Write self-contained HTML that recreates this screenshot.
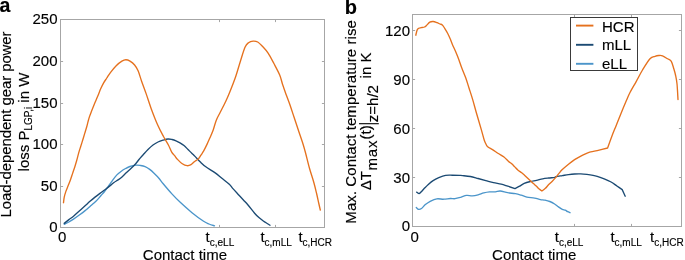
<!DOCTYPE html>
<html><head><meta charset="utf-8"><style>
html,body{margin:0;padding:0;background:#fff;width:685px;height:260px;overflow:hidden}
svg{display:block;will-change:transform}
text{font-family:"Liberation Sans",sans-serif;stroke:#000;stroke-width:0.15px}
</style></head><body>
<svg width="685" height="260" viewBox="0 0 685 260">
<rect x="60.5" y="19.5" width="264.0" height="208.0" fill="none" stroke="#a6a6a6" stroke-width="1"/>
<line x1="60.5" y1="186.5" x2="63.1" y2="186.5" stroke="#a6a6a6"/>
<line x1="324.5" y1="186.5" x2="321.9" y2="186.5" stroke="#a6a6a6"/>
<line x1="60.5" y1="144.5" x2="63.1" y2="144.5" stroke="#a6a6a6"/>
<line x1="324.5" y1="144.5" x2="321.9" y2="144.5" stroke="#a6a6a6"/>
<line x1="60.5" y1="103.5" x2="63.1" y2="103.5" stroke="#a6a6a6"/>
<line x1="324.5" y1="103.5" x2="321.9" y2="103.5" stroke="#a6a6a6"/>
<line x1="60.5" y1="61.5" x2="63.1" y2="61.5" stroke="#a6a6a6"/>
<line x1="324.5" y1="61.5" x2="321.9" y2="61.5" stroke="#a6a6a6"/>
<line x1="219.5" y1="227.5" x2="219.5" y2="224.9" stroke="#a6a6a6"/>
<line x1="219.5" y1="19.5" x2="219.5" y2="22.1" stroke="#a6a6a6"/>
<line x1="275.5" y1="227.5" x2="275.5" y2="224.9" stroke="#a6a6a6"/>
<line x1="275.5" y1="19.5" x2="275.5" y2="22.1" stroke="#a6a6a6"/>
<rect x="412.5" y="14.5" width="269.0" height="212.0" fill="none" stroke="#a6a6a6" stroke-width="1"/>
<line x1="412.5" y1="177.5" x2="415.1" y2="177.5" stroke="#a6a6a6"/>
<line x1="681.5" y1="177.5" x2="678.9" y2="177.5" stroke="#a6a6a6"/>
<line x1="412.5" y1="128.5" x2="415.1" y2="128.5" stroke="#a6a6a6"/>
<line x1="681.5" y1="128.5" x2="678.9" y2="128.5" stroke="#a6a6a6"/>
<line x1="412.5" y1="79.5" x2="415.1" y2="79.5" stroke="#a6a6a6"/>
<line x1="681.5" y1="79.5" x2="678.9" y2="79.5" stroke="#a6a6a6"/>
<line x1="412.5" y1="30.5" x2="415.1" y2="30.5" stroke="#a6a6a6"/>
<line x1="681.5" y1="30.5" x2="678.9" y2="30.5" stroke="#a6a6a6"/>
<line x1="574.5" y1="226.5" x2="574.5" y2="223.9" stroke="#a6a6a6"/>
<line x1="574.5" y1="14.5" x2="574.5" y2="17.1" stroke="#a6a6a6"/>
<line x1="631.5" y1="226.5" x2="631.5" y2="223.9" stroke="#a6a6a6"/>
<line x1="631.5" y1="14.5" x2="631.5" y2="17.1" stroke="#a6a6a6"/>
<path d="M64.30,224.40 C65.07,224.00 67.37,222.88 68.90,222.00 C70.43,221.12 71.77,220.27 73.50,219.10 C75.23,217.93 77.37,216.42 79.30,215.00 C81.23,213.58 83.32,212.03 85.10,210.60 C86.88,209.17 88.52,207.67 90.00,206.40 C91.48,205.13 92.75,204.13 94.00,203.00 C95.25,201.87 96.33,200.85 97.50,199.60 C98.67,198.35 99.83,196.85 101.00,195.50 C102.17,194.15 103.28,193.03 104.50,191.50 C105.72,189.97 106.95,188.17 108.30,186.30 C109.65,184.43 111.17,182.20 112.60,180.30 C114.03,178.40 115.45,176.42 116.90,174.90 C118.35,173.38 119.85,172.27 121.30,171.20 C122.75,170.13 124.17,169.28 125.60,168.50 C127.03,167.72 128.18,167.05 129.90,166.50 C131.62,165.95 134.13,165.37 135.90,165.20 C137.67,165.03 138.97,165.27 140.50,165.50 C142.03,165.73 143.57,165.95 145.10,166.60 C146.63,167.25 148.17,168.25 149.70,169.40 C151.23,170.55 152.77,172.03 154.30,173.50 C155.83,174.97 157.42,176.48 158.90,178.20 C160.38,179.92 161.03,181.18 163.20,183.80 C165.37,186.42 169.02,190.77 171.90,193.90 C174.78,197.03 177.15,199.47 180.50,202.60 C183.85,205.73 188.15,209.58 192.00,212.70 C195.85,215.82 200.77,219.42 203.60,221.30 C206.43,223.18 207.18,223.25 209.00,224.00 C210.82,224.75 213.58,225.50 214.50,225.80" fill="none" stroke="#4B95CA" stroke-width="1.35" stroke-linejoin="round" stroke-linecap="round"/>
<path d="M64.20,223.40 C64.98,222.77 67.35,220.80 68.90,219.60 C70.45,218.40 71.77,217.63 73.50,216.20 C75.23,214.77 77.37,212.73 79.30,211.00 C81.23,209.27 83.32,207.42 85.10,205.80 C86.88,204.18 88.35,202.75 90.00,201.30 C91.65,199.85 93.33,198.42 95.00,197.10 C96.67,195.78 98.28,194.67 100.00,193.40 C101.72,192.13 103.45,190.92 105.30,189.50 C107.15,188.08 109.65,186.07 111.10,184.90 C112.55,183.73 112.77,183.38 114.00,182.50 C115.23,181.62 117.17,180.53 118.50,179.60 C119.83,178.67 120.67,178.08 122.00,176.90 C123.33,175.72 124.97,173.95 126.50,172.50 C128.03,171.05 129.63,169.70 131.20,168.20 C132.77,166.70 134.60,164.95 135.90,163.50 C137.20,162.05 137.82,160.92 139.00,159.50 C140.18,158.08 141.50,156.67 143.00,155.00 C144.50,153.33 146.33,151.17 148.00,149.50 C149.67,147.83 151.33,146.25 153.00,145.00 C154.67,143.75 156.33,142.80 158.00,142.00 C159.67,141.20 161.33,140.70 163.00,140.20 C164.67,139.70 166.50,139.12 168.00,139.00 C169.50,138.88 170.67,139.20 172.00,139.50 C173.33,139.80 174.67,140.25 176.00,140.80 C177.33,141.35 178.67,142.02 180.00,142.80 C181.33,143.58 182.67,144.38 184.00,145.50 C185.33,146.62 186.67,148.17 188.00,149.50 C189.33,150.83 190.83,152.35 192.00,153.50 C193.17,154.65 193.60,154.97 195.00,156.40 C196.40,157.83 198.60,160.37 200.40,162.10 C202.20,163.83 203.33,165.00 205.80,166.80 C208.27,168.60 212.52,170.98 215.20,172.90 C217.88,174.82 219.55,176.40 221.90,178.30 C224.25,180.20 227.50,182.62 229.30,184.30 C231.10,185.98 231.25,186.75 232.70,188.40 C234.15,190.05 236.22,192.27 238.00,194.20 C239.78,196.13 241.73,198.20 243.40,200.00 C245.07,201.80 246.13,202.80 248.00,205.00 C249.87,207.20 252.78,211.10 254.60,213.20 C256.42,215.30 257.45,216.30 258.90,217.60 C260.35,218.90 261.85,219.98 263.30,221.00 C264.75,222.02 266.48,223.00 267.60,223.70 C268.72,224.40 269.60,224.95 270.00,225.20" fill="none" stroke="#1B4A73" stroke-width="1.35" stroke-linejoin="round" stroke-linecap="round"/>
<path d="M63.50,202.70 C63.62,201.80 63.82,199.15 64.20,197.30 C64.58,195.45 65.15,193.52 65.80,191.60 C66.45,189.68 67.33,187.73 68.10,185.80 C68.87,183.87 69.63,182.12 70.40,180.00 C71.17,177.88 71.93,175.40 72.70,173.10 C73.47,170.80 74.33,168.30 75.00,166.20 C75.67,164.10 76.08,162.72 76.70,160.50 C77.32,158.28 78.03,155.23 78.70,152.90 C79.37,150.57 80.02,148.68 80.70,146.50 C81.38,144.32 82.12,142.03 82.80,139.80 C83.48,137.57 84.13,135.32 84.80,133.10 C85.47,130.88 86.23,128.52 86.80,126.50 C87.37,124.48 87.77,122.60 88.20,121.00 C88.63,119.40 88.87,118.48 89.40,116.90 C89.93,115.32 90.62,113.53 91.40,111.50 C92.18,109.47 93.32,106.62 94.10,104.70 C94.88,102.78 95.45,101.53 96.10,100.00 C96.75,98.47 97.22,97.40 98.00,95.50 C98.78,93.60 99.88,90.67 100.80,88.60 C101.72,86.53 102.50,84.87 103.50,83.10 C104.50,81.33 105.65,79.75 106.80,78.00 C107.95,76.25 108.83,74.65 110.40,72.60 C111.97,70.55 114.28,67.62 116.20,65.70 C118.12,63.78 120.28,62.10 121.90,61.10 C123.52,60.10 124.55,59.70 125.90,59.70 C127.25,59.70 128.55,60.22 130.00,61.10 C131.45,61.98 133.25,63.38 134.60,65.00 C135.95,66.62 136.93,68.10 138.10,70.80 C139.27,73.50 140.25,77.35 141.60,81.20 C142.95,85.05 144.58,89.28 146.20,93.90 C147.82,98.52 149.38,103.72 151.30,108.90 C153.22,114.08 155.67,120.40 157.70,125.00 C159.73,129.60 161.72,133.17 163.50,136.50 C165.28,139.83 167.03,142.38 168.40,145.00 C169.77,147.62 170.67,150.43 171.70,152.20 C172.73,153.97 173.63,154.40 174.60,155.60 C175.57,156.80 176.22,158.03 177.50,159.40 C178.78,160.77 180.70,162.75 182.30,163.80 C183.90,164.85 185.65,165.55 187.10,165.70 C188.55,165.85 189.80,165.35 191.00,164.70 C192.20,164.05 193.07,162.77 194.30,161.80 C195.53,160.83 197.27,160.05 198.40,158.90 C199.53,157.75 200.22,156.23 201.10,154.90 C201.98,153.57 202.70,152.70 203.70,150.90 C204.70,149.10 206.08,146.23 207.10,144.10 C208.12,141.97 208.78,140.45 209.80,138.10 C210.82,135.75 212.13,132.95 213.20,130.00 C214.27,127.05 215.07,123.28 216.20,120.40 C217.33,117.52 218.40,115.90 220.00,112.70 C221.60,109.50 224.20,104.57 225.80,101.20 C227.40,97.83 227.93,96.67 229.60,92.50 C231.27,88.33 234.00,81.42 235.80,76.20 C237.60,70.98 238.87,66.02 240.40,61.20 C241.93,56.38 243.65,50.38 245.00,47.30 C246.35,44.22 247.15,43.73 248.50,42.70 C249.85,41.67 251.57,41.22 253.10,41.10 C254.63,40.98 256.17,41.15 257.70,42.00 C259.23,42.85 260.57,44.35 262.30,46.20 C264.03,48.05 266.17,50.22 268.10,53.10 C270.03,55.98 271.97,59.85 273.90,63.50 C275.83,67.15 278.25,71.50 279.70,75.00 C281.15,78.50 281.50,81.17 282.60,84.50 C283.70,87.83 285.07,91.58 286.30,95.00 C287.53,98.42 288.72,101.33 290.00,105.00 C291.28,108.67 292.53,112.58 294.00,117.00 C295.47,121.42 297.35,127.17 298.80,131.50 C300.25,135.83 301.58,139.47 302.70,143.00 C303.82,146.53 304.38,148.53 305.50,152.70 C306.62,156.87 308.00,163.00 309.40,168.00 C310.80,173.00 312.70,178.45 313.90,182.70 C315.10,186.95 315.80,190.12 316.60,193.50 C317.40,196.88 318.08,200.25 318.70,203.00 C319.32,205.75 320.03,208.83 320.30,210.00" fill="none" stroke="#E5711E" stroke-width="1.35" stroke-linejoin="round" stroke-linecap="round"/>
<path d="M416.30,207.50 C416.70,207.82 417.83,209.23 418.70,209.40 C419.57,209.57 420.38,209.30 421.50,208.50 C422.62,207.70 423.95,205.80 425.40,204.60 C426.85,203.40 428.28,202.27 430.20,201.30 C432.12,200.33 434.65,199.15 436.90,198.80 C439.15,198.45 441.45,199.25 443.70,199.20 C445.95,199.15 448.52,198.58 450.40,198.50 C452.28,198.42 453.27,198.90 455.00,198.70 C456.73,198.50 458.88,197.85 460.80,197.30 C462.72,196.75 464.58,195.65 466.50,195.40 C468.42,195.15 470.37,195.90 472.30,195.80 C474.23,195.70 476.18,195.28 478.10,194.80 C480.02,194.32 481.88,193.38 483.80,192.90 C485.72,192.42 487.67,192.07 489.60,191.90 C491.53,191.73 493.63,192.05 495.40,191.90 C497.17,191.75 498.15,190.87 500.20,191.00 C502.25,191.13 505.17,192.25 507.70,192.70 C510.23,193.15 513.15,193.28 515.40,193.70 C517.65,194.12 519.28,194.63 521.20,195.20 C523.12,195.77 524.67,196.62 526.90,197.10 C529.13,197.58 532.35,197.68 534.60,198.10 C536.85,198.52 538.67,199.25 540.40,199.60 C542.13,199.95 543.43,199.88 545.00,200.20 C546.57,200.52 548.20,200.87 549.80,201.50 C551.40,202.13 553.15,203.10 554.60,204.00 C556.05,204.90 557.22,206.00 558.50,206.90 C559.78,207.80 561.18,208.85 562.30,209.40 C563.42,209.95 564.30,209.82 565.20,210.20 C566.10,210.58 566.90,211.28 567.70,211.70 C568.50,212.12 569.62,212.53 570.00,212.70" fill="none" stroke="#4B95CA" stroke-width="1.35" stroke-linejoin="round" stroke-linecap="round"/>
<path d="M416.70,192.10 C417.12,192.33 418.40,193.60 419.20,193.50 C420.00,193.40 420.63,192.37 421.50,191.50 C422.37,190.63 423.27,189.48 424.40,188.30 C425.53,187.12 426.85,185.68 428.30,184.40 C429.75,183.12 431.35,181.72 433.10,180.60 C434.85,179.48 436.72,178.57 438.80,177.70 C440.88,176.83 443.35,175.82 445.60,175.40 C447.85,174.98 449.97,175.20 452.30,175.20 C454.63,175.20 457.87,175.33 459.60,175.40 C461.33,175.47 460.90,175.42 462.70,175.60 C464.50,175.78 467.83,176.02 470.40,176.50 C472.97,176.98 475.53,177.82 478.10,178.50 C480.67,179.18 483.23,179.90 485.80,180.60 C488.37,181.30 490.93,182.10 493.50,182.70 C496.07,183.30 498.83,183.62 501.20,184.20 C503.57,184.78 505.40,185.47 507.70,186.20 C510.00,186.93 515.00,188.60 515.00,188.60 C515.00,188.60 518.07,187.07 519.60,186.20 C521.13,185.33 522.40,184.18 524.20,183.40 C526.00,182.62 528.35,182.02 530.40,181.50 C532.45,180.98 534.45,180.75 536.50,180.30 C538.55,179.85 540.65,179.18 542.70,178.80 C544.75,178.42 546.80,178.23 548.80,178.00 C550.80,177.77 553.47,177.63 554.70,177.40 C555.93,177.17 554.93,176.90 556.20,176.60 C557.47,176.30 560.25,175.93 562.30,175.60 C564.35,175.27 566.45,174.87 568.50,174.60 C570.55,174.33 572.55,174.12 574.60,174.00 C576.65,173.88 578.75,173.83 580.80,173.90 C582.85,173.97 584.85,174.17 586.90,174.40 C588.95,174.63 591.38,174.98 593.10,175.30 C594.82,175.62 595.35,175.72 597.20,176.30 C599.05,176.88 601.88,177.85 604.20,178.80 C606.52,179.75 608.98,180.80 611.10,182.00 C613.22,183.20 615.05,184.73 616.90,186.00 C618.75,187.27 622.20,189.60 622.20,189.60 C622.20,189.60 624.70,195.10 625.20,196.20" fill="none" stroke="#1B4A73" stroke-width="1.35" stroke-linejoin="round" stroke-linecap="round"/>
<path d="M415.80,35.20 C416.05,34.27 416.65,30.80 417.30,29.60 C417.95,28.40 418.92,28.35 419.70,28.00 C420.48,27.65 421.20,27.67 422.00,27.50 C422.80,27.33 423.77,27.32 424.50,27.00 C425.23,26.68 425.52,26.40 426.40,25.60 C427.28,24.80 428.67,22.88 429.80,22.20 C430.93,21.52 432.00,21.42 433.20,21.50 C434.40,21.58 435.88,22.28 437.00,22.70 C438.12,23.12 439.02,23.63 439.90,24.00 C440.78,24.37 441.50,24.18 442.30,24.90 C443.10,25.62 443.82,26.92 444.70,28.30 C445.58,29.68 446.63,31.33 447.60,33.20 C448.57,35.07 449.67,37.55 450.50,39.50 C451.33,41.45 451.73,42.85 452.60,44.90 C453.47,46.95 454.67,49.37 455.70,51.80 C456.73,54.23 457.78,56.80 458.80,59.50 C459.82,62.20 460.65,64.97 461.80,68.00 C462.95,71.03 464.50,74.37 465.70,77.70 C466.90,81.03 467.83,84.35 469.00,88.00 C470.17,91.65 471.45,95.38 472.70,99.60 C473.95,103.82 475.07,108.30 476.50,113.30 C477.93,118.30 480.02,125.15 481.30,129.60 C482.58,134.05 483.45,137.63 484.20,140.00 C484.95,142.37 485.22,142.68 485.80,143.80 C486.38,144.92 486.58,145.73 487.70,146.70 C488.82,147.67 490.73,148.47 492.50,149.60 C494.27,150.73 496.38,152.27 498.30,153.50 C500.22,154.73 502.28,155.67 504.00,157.00 C505.72,158.33 507.32,160.37 508.60,161.50 C509.88,162.63 510.67,162.90 511.70,163.80 C512.73,164.70 513.78,165.87 514.80,166.90 C515.82,167.93 516.65,169.02 517.80,170.00 C518.95,170.98 520.58,171.93 521.70,172.80 C522.82,173.67 523.32,174.13 524.50,175.20 C525.68,176.27 527.37,177.85 528.80,179.20 C530.23,180.55 531.87,182.17 533.10,183.30 C534.33,184.43 535.18,185.03 536.20,186.00 C537.22,186.97 538.25,188.27 539.20,189.10 C540.15,189.93 541.90,191.00 541.90,191.00 C541.90,191.00 544.30,189.33 545.40,188.30 C546.50,187.27 547.35,185.98 548.50,184.80 C549.65,183.62 551.12,182.40 552.30,181.20 C553.48,180.00 554.52,178.87 555.60,177.60 C556.68,176.33 557.68,174.93 558.80,173.60 C559.92,172.27 560.68,171.17 562.30,169.60 C563.92,168.03 566.45,165.87 568.50,164.20 C570.55,162.53 572.55,160.95 574.60,159.60 C576.65,158.25 578.98,157.07 580.80,156.10 C582.62,155.13 584.02,154.45 585.50,153.80 C586.98,153.15 588.38,152.60 589.70,152.20 C591.02,151.80 592.15,151.67 593.40,151.40 C594.65,151.13 594.83,151.17 597.20,150.60 C599.57,150.03 607.60,148.00 607.60,148.00 C607.60,148.00 610.17,140.67 611.60,136.90 C613.03,133.13 614.67,129.23 616.20,125.40 C617.73,121.57 619.07,118.13 620.80,113.90 C622.53,109.67 625.07,103.57 626.60,100.00 C628.13,96.43 628.38,95.62 630.00,92.50 C631.62,89.38 634.22,85.05 636.30,81.30 C638.38,77.55 640.22,73.75 642.50,70.00 C644.78,66.25 647.92,61.08 650.00,58.80 C652.08,56.52 653.53,56.85 655.00,56.30 C656.47,55.75 657.55,55.58 658.80,55.50 C660.05,55.42 661.05,55.25 662.50,55.80 C663.95,56.35 666.03,57.88 667.50,58.80 C668.97,59.72 670.25,59.63 671.30,61.30 C672.35,62.97 673.10,66.52 673.80,68.80 C674.50,71.08 674.97,72.50 675.50,75.00 C676.03,77.50 676.58,79.72 677.00,83.80 C677.42,87.88 677.83,96.88 678.00,99.50" fill="none" stroke="#E5711E" stroke-width="1.35" stroke-linejoin="round" stroke-linecap="round"/>
<text x="57.5" y="232.4" text-anchor="end" font-family="Liberation Sans, sans-serif" font-size="15" fill="#000">0</text>
<text x="57.5" y="190.8" text-anchor="end" font-family="Liberation Sans, sans-serif" font-size="15" fill="#000">50</text>
<text x="57.5" y="149.2" text-anchor="end" font-family="Liberation Sans, sans-serif" font-size="15" fill="#000">100</text>
<text x="57.5" y="107.6" text-anchor="end" font-family="Liberation Sans, sans-serif" font-size="15" fill="#000">150</text>
<text x="57.5" y="66.0" text-anchor="end" font-family="Liberation Sans, sans-serif" font-size="15" fill="#000">200</text>
<text x="57.5" y="24.4" text-anchor="end" font-family="Liberation Sans, sans-serif" font-size="15" fill="#000">250</text>
<text x="410" y="231.4" text-anchor="end" font-family="Liberation Sans, sans-serif" font-size="15" fill="#000">0</text>
<text x="410" y="182.5" text-anchor="end" font-family="Liberation Sans, sans-serif" font-size="15" fill="#000">30</text>
<text x="410" y="133.6" text-anchor="end" font-family="Liberation Sans, sans-serif" font-size="15" fill="#000">60</text>
<text x="410" y="84.6" text-anchor="end" font-family="Liberation Sans, sans-serif" font-size="15" fill="#000">90</text>
<text x="410" y="35.7" text-anchor="end" font-family="Liberation Sans, sans-serif" font-size="15" fill="#000">120</text>
<text x="62.1" y="241.9" text-anchor="middle" font-family="Liberation Sans, sans-serif" font-size="15" fill="#000">0</text>
<text x="414.6" y="241.5" text-anchor="middle" font-family="Liberation Sans, sans-serif" font-size="15" fill="#000">0</text>
<text x="205.6" y="241.5" font-family="Liberation Sans, sans-serif" font-size="15" fill="#000">t<tspan font-size="10" dy="4.3">c,eLL</tspan></text>
<text x="260.4" y="241.5" font-family="Liberation Sans, sans-serif" font-size="15" fill="#000">t<tspan font-size="10" dy="4.3">c,mLL</tspan></text>
<text x="298.4" y="241.5" font-family="Liberation Sans, sans-serif" font-size="15" fill="#000">t<tspan font-size="10" dy="4.3">c,HCR</tspan></text>
<text x="554.8" y="241.5" font-family="Liberation Sans, sans-serif" font-size="15" fill="#000">t<tspan font-size="10" dy="4.3">c,eLL</tspan></text>
<text x="610.4" y="241.5" font-family="Liberation Sans, sans-serif" font-size="15" fill="#000">t<tspan font-size="10" dy="4.3">c,mLL</tspan></text>
<text x="650" y="241.5" font-family="Liberation Sans, sans-serif" font-size="15" fill="#000">t<tspan font-size="10" dy="4.3">c,HCR</tspan></text>
<text x="184.9" y="259.6" text-anchor="middle" font-family="Liberation Sans, sans-serif" font-size="15" fill="#000">Contact time</text>
<text x="534.2" y="259.6" text-anchor="middle" font-family="Liberation Sans, sans-serif" font-size="15" fill="#000">Contact time</text>
<text transform="translate(10.8,124.4) rotate(-90)" text-anchor="middle" textLength="186" lengthAdjust="spacing" font-family="Liberation Sans, sans-serif" font-size="15" fill="#000">Load-dependent gear power</text>
<text transform="translate(28.6,122) rotate(-90)" text-anchor="middle" font-family="Liberation Sans, sans-serif" font-size="15" fill="#000">loss P<tspan font-size="10" dy="3.8">LGP,i</tspan><tspan dy="-3.8"> in W</tspan></text>
<text transform="translate(355.5,121.9) rotate(-90)" text-anchor="middle" textLength="203.5" lengthAdjust="spacing" font-family="Liberation Sans, sans-serif" font-size="15" fill="#000">Max. Contact temperature rise</text>
<text transform="translate(371.3,190.2) rotate(-90)" font-family="Liberation Sans, sans-serif" font-size="15" fill="#000" >ΔT</text>
<text transform="translate(377.3,170.6) rotate(-90)" font-family="Liberation Sans, sans-serif" font-size="15" fill="#000" textLength="30" lengthAdjust="spacing">max</text>
<text transform="translate(371.3,139.5) rotate(-90)" font-family="Liberation Sans, sans-serif" font-size="15" fill="#000" >(t)</text>
<line x1="359" y1="123.7" x2="378.8" y2="123.7" stroke="#000" stroke-width="1.1"/>
<text transform="translate(378.2,122.2) rotate(-90)" font-family="Liberation Sans, sans-serif" font-size="15" fill="#000" >z=h/2</text>
<text transform="translate(371.3,78.4) rotate(-90)" font-family="Liberation Sans, sans-serif" font-size="15" fill="#000" >in K</text>
<text x="-0.5" y="12.2" font-family="Liberation Sans, sans-serif" font-weight="bold" font-size="19.5">a</text>
<text x="344.8" y="13.8" font-family="Liberation Sans, sans-serif" font-weight="bold" font-size="20">b</text>
<rect x="570.5" y="17.5" width="67" height="53" fill="#fff" stroke="#3a3a3a" stroke-width="1"/>
<line x1="576" y1="25.6" x2="593.4" y2="25.6" stroke="#E5711E" stroke-width="1.9"/>
<text x="602" y="31.8" font-family="Liberation Sans, sans-serif" font-size="15" fill="#000">HCR</text>
<line x1="576" y1="44.8" x2="593.4" y2="44.8" stroke="#1B4A73" stroke-width="1.9"/>
<text x="602" y="50.2" font-family="Liberation Sans, sans-serif" font-size="15" fill="#000">mLL</text>
<line x1="576" y1="63.8" x2="593.4" y2="63.8" stroke="#4B95CA" stroke-width="1.9"/>
<text x="602" y="68.5" font-family="Liberation Sans, sans-serif" font-size="15" fill="#000">eLL</text>
</svg>
</body></html>
